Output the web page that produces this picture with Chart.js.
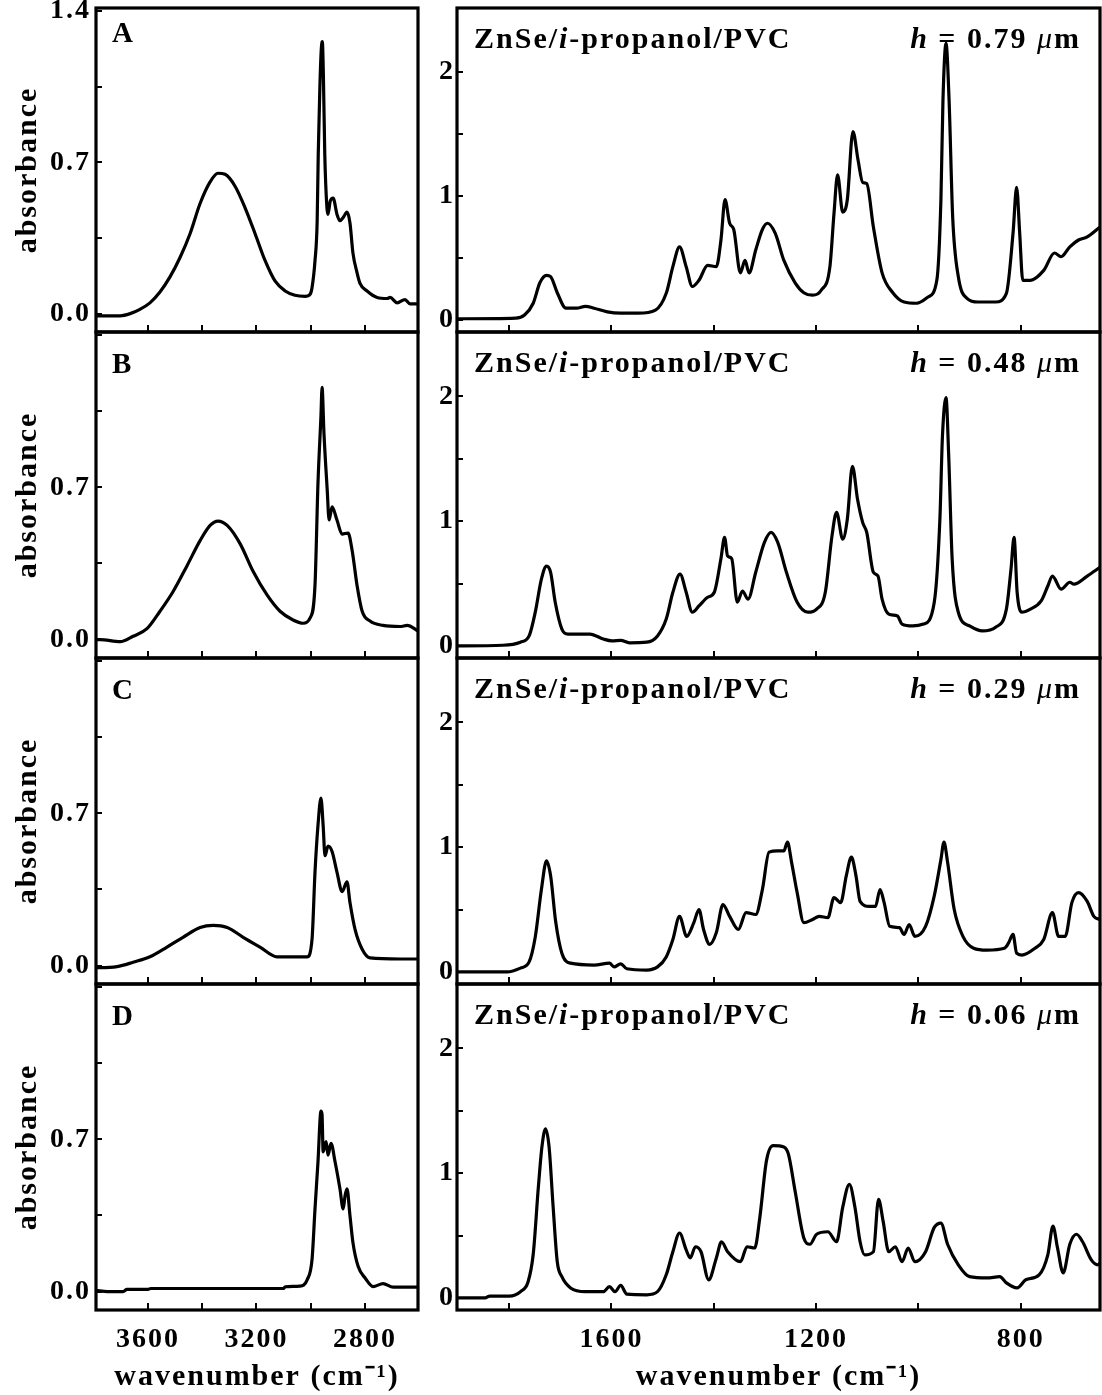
<!DOCTYPE html>
<html>
<head>
<meta charset="utf-8">
<script src="https://cdn.jsdelivr.net/npm/chart.js@4.4.0/dist/chart.umd.min.js"></script>
<style>
html, body { margin: 0; padding: 0; background: #fff; }
#fig { position: relative; width: 1102px; height: 1395px; overflow: hidden; background: #fff; }
.panel { position: absolute; }
.panel canvas { display: block; }
</style>
</head>
<body>
<div id="fig"></div>
<script>
// ---------------- DATA (wavenumber cm^-1, absorbance) ----------------
const spectrumLeftA = [[3792,-0.01],[3777,-0.01],[3740,-0.01],[3703,-0.01],[3666,0.00],[3630,0.02],[3593,0.05],[3556,0.10],[3519,0.17],[3482,0.26],[3445,0.37],[3408,0.51],[3371,0.61],[3342,0.65],[3316,0.645],[3279,0.59],[3242,0.49],[3205,0.37],[3168,0.245],[3131,0.15],[3094,0.105],[3058,0.085],[3021,0.08],[3002,0.09],[2995,0.12],[2984,0.245],[2976,0.43],[2972,0.74],[2966,1.05],[2961,1.22],[2957,1.26],[2953,1.10],[2948,0.74],[2940,0.49],[2936,0.46],[2928,0.52],[2917,0.535],[2903,0.46],[2892,0.43],[2880,0.445],[2866,0.47],[2855,0.42],[2844,0.28],[2829,0.19],[2818,0.14],[2792,0.105],[2755,0.075],[2718,0.07],[2707,0.075],[2681,0.05],[2652,0.065],[2633,0.045],[2604,0.045]];
const spectrumLeftB = [[3792,0.0],[3777,0.0],[3703,-0.01],[3655,0.015],[3604,0.05],[3556,0.13],[3508,0.22],[3456,0.34],[3408,0.455],[3371,0.525],[3342,0.545],[3308,0.525],[3260,0.44],[3213,0.315],[3161,0.205],[3113,0.13],[3065,0.09],[3028,0.075],[3002,0.10],[2984,0.25],[2973,0.72],[2962,1.03],[2958,1.16],[2951,0.95],[2939,0.69],[2932,0.55],[2921,0.61],[2903,0.55],[2884,0.485],[2862,0.49],[2847,0.41],[2829,0.25],[2810,0.13],[2781,0.085],[2733,0.065],[2670,0.06],[2644,0.065],[2604,0.04]];
const spectrumLeftC = [[3792,-0.01],[3777,-0.01],[3714,-0.005],[3655,0.015],[3593,0.04],[3530,0.085],[3471,0.13],[3408,0.175],[3360,0.185],[3308,0.175],[3249,0.13],[3187,0.085],[3124,0.04],[3076,0.04],[3013,0.04],[2995,0.12],[2984,0.43],[2973,0.645],[2962,0.77],[2954,0.645],[2947,0.505],[2936,0.55],[2921,0.525],[2903,0.43],[2884,0.34],[2866,0.385],[2855,0.29],[2836,0.165],[2810,0.075],[2781,0.035],[2670,0.03],[2604,0.03]];
const spectrumLeftD = [[3792,0.005],[3750,0.0],[3692,0.0],[3678,0.01],[3600,0.01],[3590,0.014],[3300,0.014],[3100,0.014],[3094,0.022],[3040,0.025],[3013,0.054],[2995,0.147],[2984,0.38],[2973,0.597],[2962,0.83],[2958,0.814],[2954,0.643],[2943,0.69],[2936,0.628],[2925,0.682],[2910,0.597],[2892,0.473],[2880,0.38],[2873,0.442],[2866,0.473],[2855,0.349],[2844,0.225],[2825,0.116],[2799,0.062],[2770,0.023],[2733,0.036],[2696,0.02],[2604,0.02]];

const spectrumRightA = [[1902,0.01],[1889,0.01],[1787,0.015],[1770,0.04],[1753,0.135],[1740,0.30],[1727,0.36],[1719,0.35],[1706,0.22],[1689,0.095],[1668,0.095],[1651,0.11],[1634,0.095],[1608,0.065],[1582,0.055],[1548,0.055],[1514,0.08],[1493,0.215],[1480,0.43],[1467,0.59],[1454,0.43],[1442,0.27],[1429,0.32],[1412,0.44],[1395,0.43],[1386,0.645],[1378,0.97],[1369,0.78],[1361,0.73],[1348,0.38],[1339,0.48],[1331,0.38],[1318,0.565],[1305,0.73],[1295,0.78],[1280,0.70],[1263,0.48],[1241,0.30],[1224,0.22],[1207,0.20],[1190,0.24],[1173,0.43],[1165,0.86],[1158,1.17],[1148,0.87],[1139,0.97],[1128,1.52],[1118,1.29],[1109,1.11],[1101,1.10],[1088,0.75],[1071,0.38],[1050,0.22],[1028,0.145],[1003,0.135],[981,0.185],[964,0.32],[956,0.97],[952,1.77],[946,2.23],[940,1.77],[933,0.83],[922,0.35],[905,0.175],[883,0.145],[849,0.145],[828,0.215],[815,0.70],[808,1.07],[802,0.70],[796,0.32],[781,0.32],[755,0.40],[734,0.54],[721,0.51],[704,0.59],[687,0.645],[670,0.67],[645,0.75]];
const spectrumRightB = [[1902,0.0],[1889,0.0],[1812,0.005],[1778,0.03],[1761,0.08],[1749,0.27],[1737,0.535],[1727,0.64],[1719,0.59],[1710,0.35],[1697,0.135],[1685,0.095],[1642,0.095],[1616,0.055],[1599,0.04],[1582,0.045],[1565,0.025],[1531,0.03],[1510,0.08],[1493,0.215],[1480,0.43],[1466,0.575],[1454,0.43],[1442,0.27],[1429,0.32],[1412,0.39],[1399,0.43],[1386,0.70],[1379,0.87],[1373,0.72],[1365,0.70],[1354,0.35],[1344,0.44],[1333,0.375],[1318,0.59],[1301,0.83],[1288,0.91],[1275,0.83],[1258,0.59],[1237,0.35],[1216,0.27],[1199,0.295],[1182,0.43],[1169,0.88],[1160,1.07],[1148,0.855],[1139,1.015],[1129,1.44],[1119,1.175],[1109,0.99],[1101,0.91],[1088,0.59],[1079,0.56],[1071,0.375],[1058,0.255],[1041,0.24],[1032,0.175],[1011,0.16],[990,0.175],[969,0.35],[958,1.015],[953,1.68],[946,1.99],[941,1.55],[934,0.695],[922,0.27],[900,0.16],[875,0.12],[849,0.15],[828,0.295],[819,0.615],[813,0.87],[807,0.43],[798,0.27],[781,0.295],[760,0.36],[747,0.48],[738,0.56],[721,0.455],[704,0.51],[696,0.495],[670,0.56],[645,0.63]];
const spectrumRightC = [[1902,0.0],[1889,0.0],[1804,0.0],[1778,0.03],[1761,0.08],[1749,0.28],[1737,0.66],[1727,0.89],[1719,0.77],[1709,0.40],[1697,0.15],[1680,0.07],[1634,0.055],[1604,0.07],[1595,0.04],[1582,0.065],[1570,0.025],[1531,0.015],[1510,0.04],[1493,0.12],[1480,0.26],[1467,0.445],[1453,0.285],[1439,0.395],[1429,0.50],[1420,0.34],[1408,0.22],[1395,0.315],[1382,0.54],[1369,0.445],[1352,0.34],[1337,0.475],[1318,0.46],[1305,0.66],[1292,0.96],[1275,0.97],[1263,0.97],[1256,1.04],[1248,0.88],[1237,0.635],[1224,0.395],[1207,0.42],[1194,0.445],[1177,0.435],[1165,0.595],[1152,0.555],[1141,0.77],[1131,0.92],[1122,0.77],[1114,0.565],[1096,0.525],[1084,0.525],[1075,0.66],[1067,0.555],[1056,0.365],[1037,0.355],[1028,0.30],[1018,0.38],[1007,0.285],[986,0.365],[969,0.61],[956,0.90],[950,1.04],[943,0.88],[930,0.50],[913,0.285],[892,0.19],[866,0.175],[832,0.19],[824,0.23],[815,0.30],[808,0.15],[798,0.135],[772,0.19],[755,0.26],[738,0.475],[726,0.285],[713,0.285],[700,0.555],[687,0.635],[670,0.565],[657,0.445],[645,0.42]];
const spectrumRightD = [[1902,0.0],[1889,0.0],[1847,0.0],[1838,0.015],[1800,0.015],[1778,0.05],[1763,0.13],[1753,0.35],[1743,0.885],[1736,1.21],[1729,1.355],[1722,1.21],[1714,0.725],[1706,0.29],[1697,0.17],[1680,0.08],[1651,0.05],[1616,0.05],[1604,0.09],[1593,0.05],[1582,0.10],[1570,0.03],[1531,0.025],[1510,0.05],[1493,0.185],[1480,0.37],[1467,0.52],[1454,0.385],[1446,0.32],[1436,0.41],[1425,0.37],[1410,0.145],[1395,0.32],[1385,0.45],[1373,0.37],[1348,0.29],[1335,0.41],[1320,0.40],[1310,0.645],[1297,1.10],[1284,1.22],[1263,1.21],[1254,1.15],[1241,0.855],[1224,0.48],[1212,0.43],[1199,0.51],[1177,0.53],[1160,0.45],[1148,0.725],[1135,0.91],[1124,0.725],[1114,0.45],[1105,0.345],[1088,0.37],[1078,0.79],[1069,0.615],[1058,0.37],[1045,0.41],[1032,0.29],[1020,0.40],[1007,0.29],[986,0.37],[969,0.565],[956,0.60],[943,0.43],[922,0.265],[900,0.17],[866,0.16],[841,0.17],[828,0.12],[807,0.08],[790,0.145],[764,0.185],[747,0.345],[737,0.575],[728,0.40],[717,0.20],[704,0.43],[691,0.51],[679,0.45],[662,0.305],[649,0.265],[645,0.28]];

const leftSpectra = [spectrumLeftA, spectrumLeftB, spectrumLeftC, spectrumLeftD];
const rightSpectra = [spectrumRightA, spectrumRightB, spectrumRightC, spectrumRightD];

const panelLetters = ['A', 'B', 'C', 'D'];
const filmThickness = ['0.79', '0.48', '0.29', '0.06'];

const leftXTicks = [3600, 3400, 3200, 3000, 2800];
const leftXTickLabels = ['3600', '', '3200', '', '2800'];
const rightXTicks = [1800, 1600, 1400, 1200, 1000, 800];
const rightXTickLabels = ['', '1600', '', '1200', '', '800'];
const leftYTicks = [0, 0.35, 0.7, 1.05, 1.4];
const leftYTickLabelsTop = ['0.0', '', '0.7', '', '1.4'];
const leftYTickLabels = ['0.0', '', '0.7', '', ''];
const rightYTicks = [0, 0.5, 1, 1.5, 2];
const rightYTickLabels = ['0', '', '1', '', '2'];

const leftXRange = { min: 2604, max: 3792 };
const rightXRange = { min: 645, max: 1902 };
const leftYRange = { min: -0.085, max: 1.415 };
const rightYRange = { min: -0.097, max: 2.516 };

// ---------------- LAYOUT / STYLE ----------------
const FIG_H = 1395;
const rowTops = [8, 332, 658, 984];
const rowBottoms = [332, 658, 984, 1310];
const SERIF = '"Liberation Serif", "Times New Roman", serif';
const SPACING = '2px';

const fig = document.getElementById('fig');

const framePlugin = {
  id: 'frame',
  beforeDraw(chart) { chart.ctx.letterSpacing = SPACING; },
  afterDraw(chart) {
    const { ctx, chartArea: a } = chart;
    ctx.save();
    ctx.strokeStyle = '#000';
    ctx.lineWidth = 3.2;
    ctx.strokeRect(a.left, a.top, a.right - a.left, a.bottom - a.top);
    ctx.restore();
  }
};

function drawSegments(ctx, segs, x, y, alignRight) {
  let total = 0;
  segs.forEach(s => { ctx.font = s.font; total += ctx.measureText(s.text).width; });
  let cx = alignRight ? x - total : x;
  ctx.textAlign = 'left';
  ctx.textBaseline = 'alphabetic';
  segs.forEach(s => {
    ctx.font = s.font;
    ctx.fillText(s.text, cx, y);
    cx += ctx.measureText(s.text).width;
  });
}

function makeChart(opts) {
  const row = opts.row;
  const isBottom = row === 3;
  const top = rowTops[row], bottom = rowBottoms[row];
  const cy = row === 0 ? 0 : top - 6;
  const ch = (isBottom ? FIG_H : bottom + 6) - cy;
  const padTop = top - cy;
  const xAxisH = ch - padTop - (bottom - top);

  const wrap = document.createElement('div');
  wrap.className = 'panel';
  wrap.style.left = opts.cx + 'px';
  wrap.style.top = cy + 'px';
  wrap.style.width = opts.cw + 'px';
  wrap.style.height = ch + 'px';
  const canvas = document.createElement('canvas');
  canvas.width = opts.cw;
  canvas.height = ch;
  canvas.style.width = opts.cw + 'px';
  canvas.style.height = ch + 'px';
  wrap.appendChild(canvas);
  fig.appendChild(wrap);

  const zeroPad = s => { s.paddingTop = 0; s.paddingBottom = 0; s.paddingLeft = 0; s.paddingRight = 0; };

  const textPlugin = {
    id: 'panelText',
    afterDraw(chart) {
      const { ctx, chartArea: a } = chart;
      ctx.save();
      ctx.fillStyle = '#000';
      ctx.letterSpacing = SPACING;
      opts.texts(ctx, a);
      ctx.restore();
    }
  };

  new Chart(canvas, {
    type: 'line',
    data: {
      datasets: [{
        data: opts.spectrum.map(p => ({ x: p[0], y: p[1] })),
        borderColor: '#000',
        borderWidth: 3.2,
        pointRadius: 0,
        fill: false,
        cubicInterpolationMode: 'monotone',
        borderJoinStyle: 'round',
        borderCapStyle: 'round'
      }]
    },
    options: {
      responsive: false,
      animation: false,
      devicePixelRatio: 1,
      events: [],
      layout: { autoPadding: false, padding: { top: padTop, right: opts.cw - opts.areaRight, left: 0, bottom: 0 } },
      plugins: { legend: { display: false }, tooltip: { enabled: false }, title: { display: false } },
      scales: {
        x: {
          type: 'linear', position: 'bottom', reverse: true,
          min: opts.xRange.min, max: opts.xRange.max,
          afterBuildTicks: s => { s.ticks = opts.xTicks.map(v => ({ value: v })); },
          afterFit: s => { s.height = xAxisH; zeroPad(s); },
          border: { display: false },
          grid: { drawOnChartArea: false, drawTicks: true, tickLength: -7, color: '#000', lineWidth: 2 },
          ticks: {
            display: isBottom, autoSkip: false, maxRotation: 0, color: '#000', padding: 20,
            font: { family: SERIF, size: 28, weight: 'bold' },
            callback: (v, i) => opts.xTickLabels[i]
          },
          title: {
            display: isBottom, text: 'wavenumber (cm⁻¹)', color: '#000',
            font: { family: SERIF, size: 30, weight: 'bold' }, padding: { top: 0, bottom: 0 }
          }
        },
        y: {
          type: 'linear', position: 'left',
          min: opts.yRange.min, max: opts.yRange.max,
          afterBuildTicks: s => { s.ticks = opts.yTicks.map(v => ({ value: v })); },
          afterFit: s => { s.width = opts.areaLeft; zeroPad(s); },
          border: { display: false },
          grid: { drawOnChartArea: false, drawTicks: true, tickLength: -6, color: '#000', lineWidth: 2 },
          ticks: {
            color: '#000', padding: opts.yTickPad, autoSkip: false,
            font: { family: SERIF, size: 28, weight: 'bold' },
            callback: (v, i) => opts.yTickLabels[i]
          },
          title: {
            display: opts.yTitle, text: 'absorbance', color: '#000',
            font: { family: SERIF, size: 30, weight: 'bold' }, padding: { top: 10, bottom: 0 }
          }
        }
      }
    },
    plugins: [framePlugin, textPlugin]
  });
}

for (let r = 0; r < 4; r++) {
  // left column (C-H / O-H stretching region)
  makeChart({
    row: r, cx: 0, cw: 420, areaLeft: 96, areaRight: 418,
    spectrum: leftSpectra[r],
    xRange: leftXRange, yRange: leftYRange,
    xTicks: leftXTicks, xTickLabels: leftXTickLabels,
    yTicks: leftYTicks, yTickLabels: r === 0 ? leftYTickLabelsTop : leftYTickLabels,
    yTickPad: 11, yTitle: true,
    texts: (ctx, a) => {
      ctx.font = 'bold 29px ' + SERIF;
      ctx.textAlign = 'left';
      ctx.textBaseline = 'alphabetic';
      ctx.fillText(panelLetters[r], a.left + 16, a.top + (r === 0 ? 34 : 41));
    }
  });
  // right column (fingerprint region)
  makeChart({
    row: r, cx: 420, cw: 682, areaLeft: 37, areaRight: 680,
    spectrum: rightSpectra[r],
    xRange: rightXRange, yRange: rightYRange,
    xTicks: rightXTicks, xTickLabels: rightXTickLabels,
    yTicks: rightYTicks, yTickLabels: rightYTickLabels,
    yTickPad: 8, yTitle: false,
    texts: (ctx, a) => {
      const b = 'bold 30px ' + SERIF;
      const bi = 'italic bold 30px ' + SERIF;
      const it = 'italic 30px ' + SERIF;
      drawSegments(ctx, [
        { text: 'ZnSe/', font: b }, { text: 'i', font: bi }, { text: '-propanol/PVC', font: b }
      ], a.left + 17, a.top + 40, false);
      drawSegments(ctx, [
        { text: 'h', font: bi }, { text: ' = ' + filmThickness[r] + ' ', font: b },
        { text: 'μ', font: it }, { text: 'm', font: b }
      ], a.right - 19, a.top + 40, true);
    }
  });
}
</script>
</body>
</html>
